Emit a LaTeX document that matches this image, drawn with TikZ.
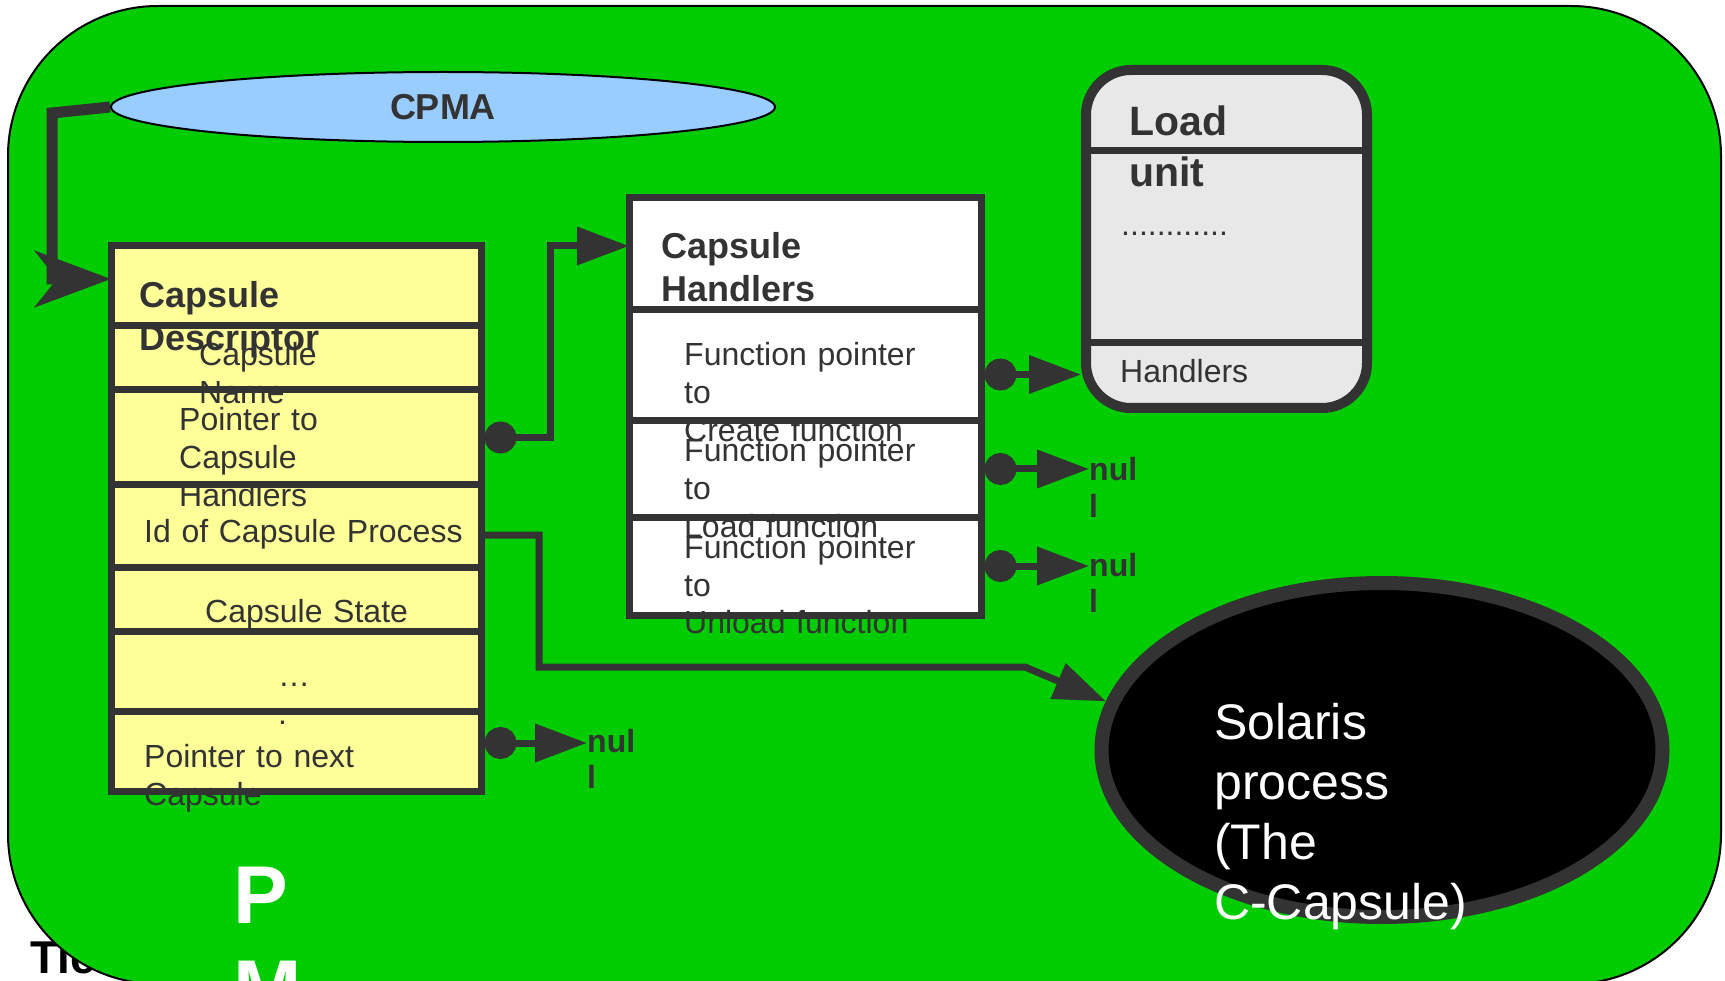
\documentclass[tikz,border=0pt]{standalone}
\usepackage[table]{xcolor}
\definecolor{PmGreen}{HTML}{00CC00}
\definecolor{Dark}{HTML}{333333}
\definecolor{DescYellow}{HTML}{FFFF99}
\definecolor{CpmaBlue}{HTML}{99CCFF}
\definecolor{UnitGray}{HTML}{E8E8E8}
\usepackage{fontspec}
\setmainfont{Liberation Sans}
\usepackage{tikz}
\usetikzlibrary{arrows.meta, positioning, shapes.geometric}
\tikzset{
  row/.style={
    rectangle, draw=Dark, line width=7pt,
    minimum width=#1, inner sep=0pt, outer sep=0pt
  },
  row/.default=370pt,
  txt/.style={
    anchor=base west, inner sep=0pt, text=Dark,
    text width=#1, align=left,
    font=\fontsize{32}{38}\selectfont
  },
  txt/.default=360pt,
  head/.style={txt=#1, font=\fontsize{36}{43}\selectfont\bfseries},
  head/.default=300pt,
  nul/.style={txt=60pt, font=\fontsize{32}{36}\selectfont\bfseries},
  ptr/.style={{Circle[length=32pt]}-{Triangle[length=52pt, width=37pt]},
    line width=7pt, color=Dark, shorten <=3.5pt},
  link/.style={-{Triangle[length=52pt, width=37pt]}, line width=7pt, color=Dark},
  bigArr/.style={-{Stealth[length=76pt, width=56pt, inset=22pt]}, line width=11pt, color=Dark},
}

\begin{document}
\begin{tikzpicture}[x=1pt, y=-1pt]
\useasboundingbox (0,0) rectangle (1725,981);
\clip (0,0) rectangle (1725,981);
\fill[white] (0,0) rectangle (1725,981);

% Text behind the frame
\node[anchor=base west, inner sep=0pt, font=\fontsize{46}{55}\selectfont\bfseries] at (30,973) (tie) {Tie};

% PM frame
\draw[fill=PmGreen, line width=2pt, rounded corners=150pt] (8,6) rectangle (1721,984);

% CPMA
\node[ellipse, draw=black, line width=2pt, fill=CpmaBlue, minimum width=664pt,
  minimum height=70pt, inner sep=0pt, text=Dark,
  font=\fontsize{36}{43}\selectfont\bfseries] at (443,107) (cpma) {CPMA};

% Capsule descriptor
\node[row, fill=DescYellow, minimum height=80pt, anchor=north west] at (111,246) (dTitle) {};
\node[row, fill=DescYellow, minimum height=64pt, below=0pt of dTitle] (dName) {};
\node[row, fill=DescYellow, minimum height=95pt, below=0pt of dName] (dHandler) {};
\node[row, fill=DescYellow, minimum height=82pt, below=0pt of dHandler] (dId) {};
\node[row, fill=DescYellow, minimum height=64pt, below=0pt of dId] (dState) {};
\node[row, fill=DescYellow, minimum height=80pt, below=0pt of dState] (dMore) {};
\node[row, fill=DescYellow, minimum height=80pt, below=0pt of dMore] (dNext) {};

\node[head] at (139,308) (tDesc) {Capsule\\Descriptor};
\node[txt] at (199,366) (tName) {Capsule\\Name};
\node[txt] at (179,431) (tHandler) {Pointer to\\Capsule\\Handlers};
\node[txt] at (144,542) (tId) {Id of Capsule Process};
\node[txt] at (205,622) (tState) {Capsule State};
\node[txt] at (278,686) (tMore) {…\\.};
\node[txt] at (144,767) (tNext) {Pointer to next\\Capsule};

% Capsule handlers
\node[row=352pt, fill=white, minimum height=112pt, anchor=north west] at (629,198) (hTitle) {};
\node[row=352pt, fill=white, minimum height=111pt, below=0pt of hTitle] (hCreate) {};
\node[row=352pt, fill=white, minimum height=96pt, below=0pt of hCreate] (hLoad) {};
\node[row=352pt, fill=white, minimum height=98pt, below=0pt of hLoad] (hUnload) {};

\node[head] at (661,259) (tHandlers) {Capsule\\Handlers};
\node[txt] at (684,366) (tCreate) {Function pointer\\to\\Create function};
\node[txt] at (684,462) (tLoad) {Function pointer\\to\\Load function};
\node[txt] at (684,558) (tUnload) {Function pointer\\to\\Unload function};

% Load unit
\node[rectangle, rounded corners=45pt, draw=Dark, line width=10pt, fill=UnitGray,
  minimum width=281pt, minimum height=338pt, inner sep=0pt] at (1226.5,239) (load) {};
\draw[Dark, line width=7pt] (load.west |- 0,151) -- (load.east |- 0,151);
\draw[Dark, line width=7pt] (load.west |- 0,343) -- (load.east |- 0,343);

\node[head, font=\fontsize{41}{51}\selectfont\bfseries] at (1129,136) (tUnit) {Load\\unit};
\node[txt] at (1121,236) (tDots) {............};
\node[txt] at (1120,383) (tUnitHandlers) {Handlers};

% Solaris process
\node[ellipse, draw=Dark, line width=14pt, fill=black, minimum width=561pt,
  minimum height=334pt, inner sep=0pt] at (1382,750) (sol) {};
\node[txt, text=white, font=\fontsize{50}{60}\selectfont] at (1214,739) (tSol) {Solaris\\process\\(The\\C-Capsule)};

% null ends
\node[nul] at (1089,481) (nulLoad) {nul\\l};
\node[nul] at (1089,576) (nulUnload) {nul\\l};
\node[nul] at (587,752) (nulNext) {nul\\l};

% Pointers
\draw[bigArr] (cpma.west) -- (52,113) |- ([yshift=7pt]dTitle.west);
\draw[ptr] (dHandler.east) -- ++(69,0) |- ([yshift=8pt]hTitle.west);
\draw[link] ([yshift=-9pt]dId.east) -- ++(58,0) -- ++(0,132) -- ++(486,0) -- (sol.170);
\draw[ptr] ([yshift=8pt]dNext.east) -- ([yshift=8pt]dNext.east -| nulNext.west);
\draw[ptr] ([yshift=-9pt]hCreate.east) -- ([yshift=-9pt]hCreate.east -| load.west);
\draw[ptr] (hLoad.east) -- (hLoad.east -| nulLoad.west);
\draw[ptr] (hUnload.east) -- (hUnload.east -| nulUnload.west);

% PM label
\node[anchor=base west, inner sep=0pt, text=white, text width=120pt, align=left,
  font=\fontsize{82}{94}\selectfont\bfseries] at (233,923) (pm) {P\\M};

\end{tikzpicture}
\end{document}
